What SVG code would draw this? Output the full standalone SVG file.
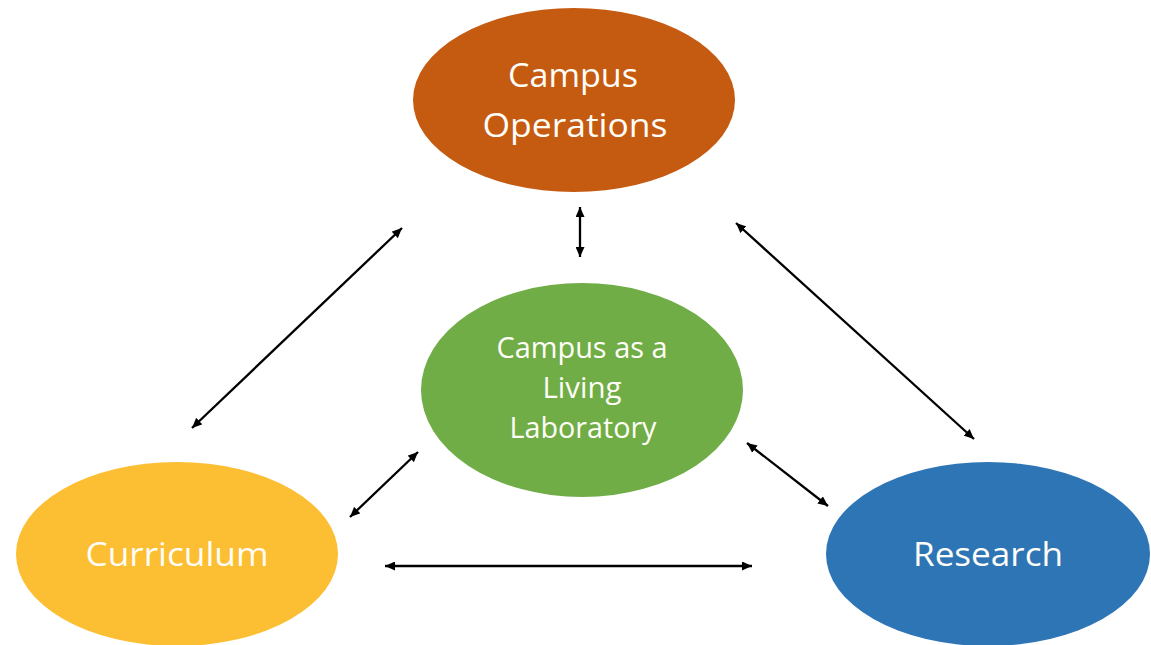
<svg xmlns="http://www.w3.org/2000/svg" width="1151" height="645" viewBox="0 0 1151 645">
  <style>
    .lbl { font-family: "Open Sans", "Noto Sans", "Liberation Sans", sans-serif; fill: #FFFDF7; text-anchor: middle; }
    .big { font-size: 33px; }
    .mid { font-size: 29px; }
    .conn { stroke: #000000; stroke-width: 2.3; fill: none; marker-start: url(#arr); marker-end: url(#arr); }
  </style>
  <defs>
    <marker id="arr" viewBox="0 0 10 9" refX="10" refY="4.5" markerWidth="10" markerHeight="9" markerUnits="userSpaceOnUse" orient="auto-start-reverse">
      <path d="M0,0 L10,4.5 L0,9 z" fill="#000000"/>
    </marker>
  </defs>
  <rect width="1151" height="645" fill="#FFFFFF"/>

  <g id="connectors">
    <line class="conn" x1="192" y1="428" x2="402" y2="228"/>
    <line class="conn" x1="580" y1="207" x2="580" y2="257"/>
    <line class="conn" x1="736" y1="223" x2="974" y2="439"/>
    <line class="conn" x1="350" y1="517" x2="418" y2="452"/>
    <line class="conn" x1="747" y1="443" x2="828" y2="506"/>
    <line class="conn" x1="385" y1="566" x2="752" y2="566"/>
  </g>

  <g id="campus-operations">
    <ellipse cx="574" cy="100" rx="161" ry="92" fill="#C55A11"/>
    <text class="lbl big" x="573" y="87" textLength="130" lengthAdjust="spacingAndGlyphs">Campus</text>
    <text class="lbl big" x="575" y="137" textLength="185" lengthAdjust="spacingAndGlyphs">Operations</text>
  </g>

  <g id="living-lab">
    <ellipse cx="582" cy="390" rx="161" ry="107" fill="#70AD47"/>
    <text class="lbl mid" x="582" y="358" textLength="171" lengthAdjust="spacingAndGlyphs">Campus as a</text>
    <text class="lbl mid" x="582" y="398" textLength="79" lengthAdjust="spacingAndGlyphs">Living</text>
    <text class="lbl mid" x="583" y="438" textLength="147" lengthAdjust="spacingAndGlyphs">Laboratory</text>
  </g>

  <g id="curriculum">
    <ellipse cx="177" cy="554" rx="161" ry="92" fill="#FCBE32"/>
    <text class="lbl big" x="177" y="566" textLength="183" lengthAdjust="spacingAndGlyphs">Curriculum</text>
  </g>

  <g id="research">
    <ellipse cx="988" cy="554" rx="162" ry="92" fill="#2E75B6"/>
    <text class="lbl big" x="988" y="566" textLength="150" lengthAdjust="spacingAndGlyphs">Research</text>
  </g>
</svg>
